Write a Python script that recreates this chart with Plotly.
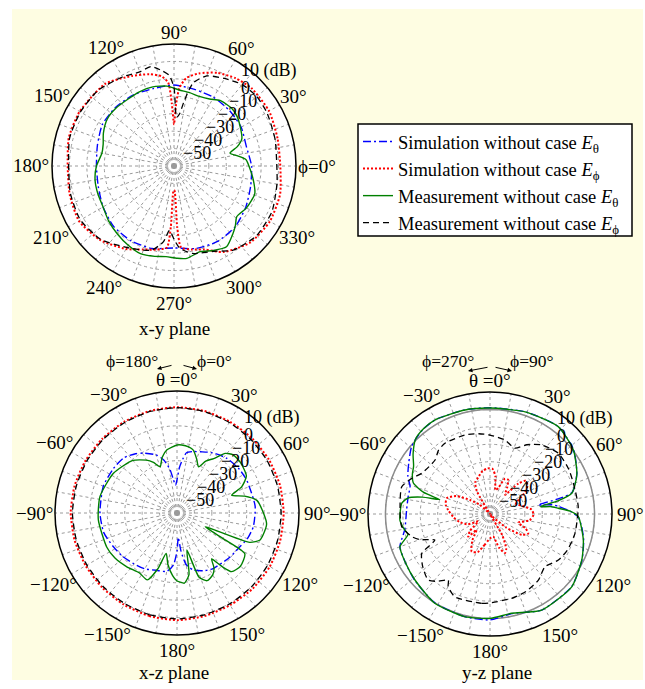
import math
import plotly.graph_objects as go

W, H = 645, 689
FONT = "Liberation Serif"

# ---------------- x-y plane (phi in degrees, counter-clockwise from +x) ----------------
xy_simT_ang = [0, 15, 30, 45, 60, 75, 90, 105, 120, 135, 150, 165, 180, 195, 210, 225, 240, 255, 270, 285, 300, 315, 330, 345, 360]
xy_simT_db = [-15.5, -17, -15.5, -15, -14.5, -14.5, -13.5, -14, -13, -12.5, -12.5, -14.5, -15.5, -15, -13, -11, -10.5, -11, -13, -11, -10, -10.5, -12.5, -14.5, -15.5]

xy_simP_ang = [0, 15, 30, 45, 55, 65, 75, 82, 86, 88, 90, 92, 94, 98, 105, 115, 130, 150, 165, 180, 195, 210, 225, 240, 250, 258, 265, 267, 269, 271, 273, 275, 282, 290, 300, 315, 330, 345, 360]
xy_simP_db = [1, 1.5, 3, 3, 1.5, -1, -5, -9, -15, -24, -36, -24, -12, -8, -5.5, -3, 1.5, 2.5, 2.5, 1, 2, 3, 0, -5, -9, -11, -13, -25, -46, -46, -25, -13, -11, -9, -3, 2, 3.5, 3, 1]

xy_meaT_ang = [0, 5, 9, 13, 17, 22, 30, 38, 45, 55, 62, 70, 78, 86, 95, 105, 115, 125, 135, 145, 155, 163, 170, 180, 190, 200, 210, 220, 230, 240, 249, 258, 265, 272, 278, 287, 295, 303, 311, 316, 321, 330, 341, 350, 360]
xy_meaT_db = [-17, -18.5, -23, -27, -22, -18, -16, -14, -13.2, -14, -16.5, -17.5, -17, -16.3, -14, -13, -13, -13.4, -13, -13.2, -15.3, -17.5, -18, -15.5, -14, -13.5, -13, -11, -9.3, -7.5, -6.2, -7, -7.8, -7, -6.5, -8.6, -6.5, -4.7, -8.5, -11, -13.7, -12, -11, -13.8, -17]

xy_meaP_ang = [0, 15, 30, 40, 50, 60, 70, 77, 81, 84, 87, 90, 93, 97, 103, 110, 120, 135, 150, 165, 180, 195, 210, 225, 240, 255, 262, 266, 270, 274, 282, 295, 305, 320, 335, 350, 360]
xy_meaP_db = [-1, 0, 1.5, 2, 1, -2, -5, -11, -22, -30, -32, -15, -8, -5, -1.5, -2.5, -1, 1.5, 2, 2, 0.5, 1.5, 2, -0.5, -6, -10, -16, -23, -18, -12.7, -8.7, -6, -1, 2, 2, 0, -1]

# ---------------- x-z plane (theta in degrees, clockwise from top) ----------------
xz_simT_ang = [-180, -176, -170, -160, -150, -139, -128, -118, -105, -90, -70, -55, -44, -35, -29, -20, -14, -9, -6, -3, 0, 3, 6, 9, 15, 21, 30, 42, 55, 65, 85, 100, 110, 118, 130, 147, 155, 164, 170, 174, 177, 180]
xz_simT_db = [-38, -30, -26, -25, -23, -21.7, -20, -18.7, -16.5, -15.8, -15, -15.5, -16, -18.5, -20.7, -24.5, -28.6, -35, -41, -44, -41, -34, -29, -25, -23.5, -22.4, -20, -17.6, -16.3, -15.8, -15, -15.5, -17, -19, -20.5, -22, -23.5, -26, -30, -38, -46, -38]

xz_simP_ang = [-180, -165, -150, -135, -120, -105, -90, -75, -60, -45, -30, -15, 0, 15, 30, 45, 60, 75, 90, 105, 120, 135, 150, 165, 180]
xz_simP_db = [1.5, 1.2, 0.8, 0.6, 0.5, 0.8, 1, 0.8, 0.5, 0.4, 0.5, 0.6, 0.7, 0.6, 0.5, 0.8, 1, 1.2, 1.2, 1.3, 1.5, 1.4, 1, 1.2, 1.5]

xz_meaT_ang = [-180, -176, -170, -165, -161, -156, -148, -137, -126, -116, -95, -78, -58, -40, -30, -25, -20, -15, -9, 0, 4, 10, 14.5, 20, 25, 29, 34, 39, 44, 52, 62, 68, 72, 76, 81, 90, 97, 104, 108, 112, 116, 119, 121, 130, 137, 140, 143, 146, 150, 156, 161, 165, 169, 174, 178, 180]
xz_meaT_db = [-21, -24, -30, -36, -26, -18, -19.4, -17.8, -16, -15.2, -14.7, -14.8, -17, -20.6, -25, -28, -31.7, -27, -23.3, -21, -20.9, -21.5, -22.7, -27, -30.7, -26, -22.3, -16, -13.6, -13.5, -14.9, -20, -27, -20, -13.6, -10.4, -8.2, -9, -9.9, -15, -42, -30, -14.6, -12.5, -14, -20, -27, -22, -19, -17.5, -21, -38, -24, -19.5, -20.5, -21]

xz_meaP_ang = [-180, -165, -150, -135, -120, -105, -90, -75, -60, -45, -30, -15, 0, 15, 30, 45, 60, 75, 90, 105, 120, 135, 150, 165, 180]
xz_meaP_db = [0.8, 0.5, 0, -0.2, -0.3, -0.2, 0, -0.2, -0.3, -0.2, 0, 0.3, 0.5, 0.3, 0, -0.2, -0.2, -0.3, -0.3, -0.2, 0, 0.2, 0.3, 0.5, 0.8]

# ---------------- y-z plane (theta in degrees, clockwise from top) ----------------
yz_simT_ang = [-180, -166, -148, -131, -120, -110, -100, -87, -78, -71, -65, -58, -50, -45, -38, -30, -13.5, 0, 19, 38, 52.5, 65, 72, 75.5, 77.5, 79.4, 81.5, 84, 88, 92, 98, 105.6, 116.6, 131.7, 151.7, 167.7, 180]
yz_simT_db = [0.8, 0.7, 0, -2.5, -4, -5, -10.4, -12.1, -12, -11.5, -8, -5, -1, 0.5, 2, 2.5, 1.5, 1, 2, 3.6, 0.5, -5, -9, -11.5, -20, -31.8, -24, -20, -14, -9.3, -6.9, -4.2, -1, 2.7, 2.6, -1.5, 0.8]

yz_simP_ang = [-180, -170, -162, -154, -146, -140, -136, -130, -122, -115, -105, -95, -85, -78, -70, -62, -55, -48, -40, -35, -30, -25, -18, -10, -3, 3, 8, 13, 18, 23, 28, 33, 38, 43, 47, 53, 60, 68, 76, 84, 91, 99, 107, 112, 117, 123, 130, 137, 143, 150, 155, 159, 165, 172, 180]
yz_simP_db = [-46, -42, -37, -36, -42, -48, -42, -45, -52, -46, -42, -39, -36, -34, -33.6, -38, -46, -52, -60, -60, -45, -40, -38, -35, -33.8, -34, -38, -46, -44, -38, -37.8, -42, -46, -36, -32, -33, -38, -44, -41, -36, -35, -37, -43, -38, -35.4, -38, -48, -58, -60, -46, -38, -36, -40, -47, -46]

yz_meaT_ang = [-180, -166, -148, -131, -120, -110, -104, -100, -94, -88, -83, -79, -76, -74, -72, -68, -63, -58, -52, -45, -38, -30, -13.5, 0, 19, 38, 52.5, 65, 72, 75.8, 79, 81.7, 83, 85.2, 88, 91.7, 105.6, 116.6, 131.7, 151.7, 167.7, 180]
yz_meaT_db = [-0.1, 0.7, 0.2, -2.7, -4, -5, -11.5, -10, -8.2, -8.5, -9, -12, -20, -30, -20, -12.6, -10, -8.3, -4, 0.5, 2, 2.5, 1.4, 0.8, 2, 3.6, 0.3, -5, -9, -11.6, -20, -31, -25, -20.7, -14, -9.3, -4.4, -1.1, 2.8, 2.6, -1.7, -0.1]

yz_meaP_ang = [-180, -174.7, -157, -150, -147.7, -142, -136.9, -128, -120, -115.3, -110, -106, -98, -85, -72.8, -65, -59.2, -45.5, -39, -32.5, -17.6, -8, 0, 11.5, 20.8, 28, 36.8, 48.4, 60, 69.8, 85.3, 102.8, 115, 124, 133.8, 143.8, 155, 165.6, 180]
yz_meaP_db = [-9, -8.5, -8.4, -12, -15.2, -11, -8.1, -11, -14.8, -25, -17, -13.2, -8.8, -8.2, -7, -11, -14.4, -15.8, -13, -11.9, -12.4, -13.5, -14.7, -16.7, -19.6, -15, -10.5, -7.5, -8, -9, -9.2, -10, -11, -12.7, -16.3, -13, -11, -10, -9]

# reference 0 dB circle (y-z plane)
ref_ang = list(range(0, 361, 5))
ref_db = [0] * len(ref_ang)

R_MIN, R_MAX = -60, 10
R_TICKS = [-50, -40, -30, -20, -10, 0, 10]
R_TEXT = ["\u221250", "\u221240", "\u221230", "\u221220", "\u221210", "0", "10 (dB)"]

ANG_TICKS = list(range(0, 360, 30))
XY_ANG_TEXT = ["\u03d5=0\u00b0", "30\u00b0", "60\u00b0", "90\u00b0", "120\u00b0", "150\u00b0",
               "180\u00b0", "210\u00b0", "240\u00b0", "270\u00b0", "300\u00b0", "330\u00b0"]
TH_ANG_TEXT = ["\u03b8 =0\u00b0", "30\u00b0", "60\u00b0", "90\u00b0", "120\u00b0", "150\u00b0",
               "180\u00b0", "\u2212150\u00b0", "\u2212120\u00b0", "\u221290\u00b0", "\u221260\u00b0", "\u221230\u00b0"]

NAMES = ["Simulation without case <i>E</i><sub>\u03b8</sub>",
         "Simulation without case <i>E</i><sub>\u03d5</sub>",
         "Measurement without case <i>E</i><sub>\u03b8</sub>",
         "Measurement without case <i>E</i><sub>\u03d5</sub>"]
STYLES = [dict(color="#0000FF", width=1.4, dash="8px,3px,2px,3px", shape="spline", smoothing=0.6),
          dict(color="#FF0000", width=2.0, dash="2px,2px", shape="spline", smoothing=0.6),
          dict(color="#008000", width=1.4, shape="spline", smoothing=0.6),
          dict(color="#000000", width=1.3, dash="6px,4px", shape="spline", smoothing=0.6)]

# subplot centres / radius in page pixels
CENTRES = {"polar": (174, 166), "polar2": (177, 513), "polar3": (490, 514)}
RAD = 122


def px2paper_x(px):
    return px / W


def px2paper_y(py):
    return 1 - py / H


def dom(cx, cy, r):
    return dict(x=[px2paper_x(cx - r), px2paper_x(cx + r)],
                y=[px2paper_y(cy + r), px2paper_y(cy - r)])


fig = go.Figure()

sets = {
    "polar": [(xy_simT_ang, xy_simT_db), (xy_simP_ang, xy_simP_db), (xy_meaT_ang, xy_meaT_db), (xy_meaP_ang, xy_meaP_db)],
    "polar2": [(xz_simT_ang, xz_simT_db), (xz_simP_ang, xz_simP_db), (xz_meaT_ang, xz_meaT_db), (xz_meaP_ang, xz_meaP_db)],
    "polar3": [(yz_simT_ang, yz_simT_db), (yz_simP_ang, yz_simP_db), (yz_meaT_ang, yz_meaT_db), (yz_meaP_ang, yz_meaP_db)],
}

fig.add_trace(go.Scatterpolar(r=ref_db, theta=ref_ang, mode="lines", subplot="polar3",
                              line=dict(color="#8c8c8c", width=1.5), showlegend=False, hoverinfo="skip"))

for sp, data in sets.items():
    for i, (ang, db) in enumerate(data):
        fig.add_trace(go.Scatterpolar(
            r=db, theta=ang, mode="lines", subplot=sp, name=NAMES[i],
            line=STYLES[i], legendgroup=NAMES[i], showlegend=(sp == "polar"),
        ))

grid_vals = list(range(0, 360, 10))


def polar_layout(domain, rotation, direction):
    return dict(
        domain=domain,
        bgcolor="white",
        radialaxis=dict(range=[R_MIN, R_MAX], tickvals=R_TICKS, showticklabels=False,
                        showline=False, ticks="",
                        gridcolor="#9a9a9a", griddash="dot", gridwidth=1, layer="below traces"),
        angularaxis=dict(rotation=rotation, direction=direction, tickmode="array", tickvals=grid_vals,
                         showticklabels=False, ticks="", showline=True,
                         linecolor="black", linewidth=1.5, gridcolor="#9a9a9a", griddash="dot",
                         gridwidth=1, layer="below traces"),
    )


# legend frame drawn as a shape so that the rows can be positioned freely inside it
LEG_BOX = (358, 124, 632, 236)

fig.update_layout(
    width=W, height=H, margin=dict(l=0, r=0, t=0, b=0, pad=0),
    paper_bgcolor="white", plot_bgcolor="white", template="none",
    font=dict(family=FONT, size=19, color="black"),
    polar=polar_layout(dom(*CENTRES["polar"], RAD), 0, "counterclockwise"),
    polar2=polar_layout(dom(*CENTRES["polar2"], RAD), 90, "clockwise"),
    polar3=polar_layout(dom(*CENTRES["polar3"], RAD), 90, "clockwise"),
    showlegend=True,
    legend=dict(x=px2paper_x(358), y=px2paper_y(123), xanchor="left", yanchor="top",
                bgcolor="rgba(0,0,0,0)", borderwidth=0,
                font=dict(family=FONT, size=18.5, color="black"), itemwidth=30, tracegroupgap=0),
    shapes=[dict(type="rect", xref="paper", yref="paper", layer="below",
                 x0=px2paper_x(12), x1=px2paper_x(643), y0=px2paper_y(680), y1=px2paper_y(9),
                 fillcolor="#FEFDE2", line=dict(width=0)),
            dict(type="rect", xref="paper", yref="paper", layer="below",
                 x0=px2paper_x(LEG_BOX[0]), x1=px2paper_x(LEG_BOX[2]),
                 y0=px2paper_y(LEG_BOX[3]), y1=px2paper_y(LEG_BOX[1]),
                 fillcolor="white", line=dict(color="black", width=1.5))],
)


def add_text(txt, x, y, size, xanchor="center", yanchor="middle"):
    fig.add_annotation(text=txt, x=px2paper_x(x), y=px2paper_y(y), xref="paper", yref="paper",
                       xanchor=xanchor, yanchor=yanchor, showarrow=False,
                       font=dict(family=FONT, size=size, color="black"))


# angular tick labels, placed just outside the rim
for sp, (cx, cy) in CENTRES.items():
    texts = XY_ANG_TEXT if sp == "polar" else TH_ANG_TEXT
    for v, t in zip(ANG_TICKS, texts):
        scr = v if sp == "polar" else 90 - v
        a = math.radians(scr)
        s, c = math.sin(a), math.cos(a)
        rho = 140 - 6 * max(s, 0) ** 2 - 3 * max(-s, 0) ** 4
        if len(t) > 3:
            rho += 3 * abs(c)
        add_text(t, cx + rho * c, cy - rho * s, 19)

# radial (dB) labels placed along a ray at 48 degrees, using the same radial scale
for sp, (cx, cy) in CENTRES.items():
    for v, t in zip(R_TICKS, R_TEXT):
        rp = RAD * (v - R_MIN) / (R_MAX - R_MIN)
        a = math.radians(48)
        x = cx + rp * math.cos(a) - 5
        y = cy - rp * math.sin(a)
        if v == R_MAX:
            x, y = cx + 65, cy - 96
        add_text(t, x, y, 18, xanchor="left")

annots = [
    ("x-y plane", 174, 328, 19), ("x-z plane", 174, 672, 19), ("y-z plane", 497, 672, 19),
    ("\u03d5=180\u00b0", 132, 361, 17.5), ("\u03d5=0\u00b0", 214, 361, 17.5),
    ("\u03d5=270\u00b0", 448, 361, 17.5), ("\u03d5=90\u00b0", 532, 361, 17.5),
]
for txt, x, y, s in annots:
    add_text(txt, x, y, s)

arrows = [((157, 369), (173, 365)), ((197, 369), (182, 365)),
          ((468, 371), (489, 367)), ((512, 371), (494, 367))]
for (hx, hy), (tx, ty) in arrows:
    fig.add_annotation(text="", x=px2paper_x(hx), y=px2paper_y(hy), xref="paper", yref="paper",
                       showarrow=True, ax=tx - hx, ay=ty - hy, arrowhead=2, arrowsize=0.9,
                       arrowwidth=1, arrowcolor="black")

fig.write_html("out.html", config={"displayModeBar": False},
               post_script="document.body.style.margin='0px';document.body.style.padding='0px';")
